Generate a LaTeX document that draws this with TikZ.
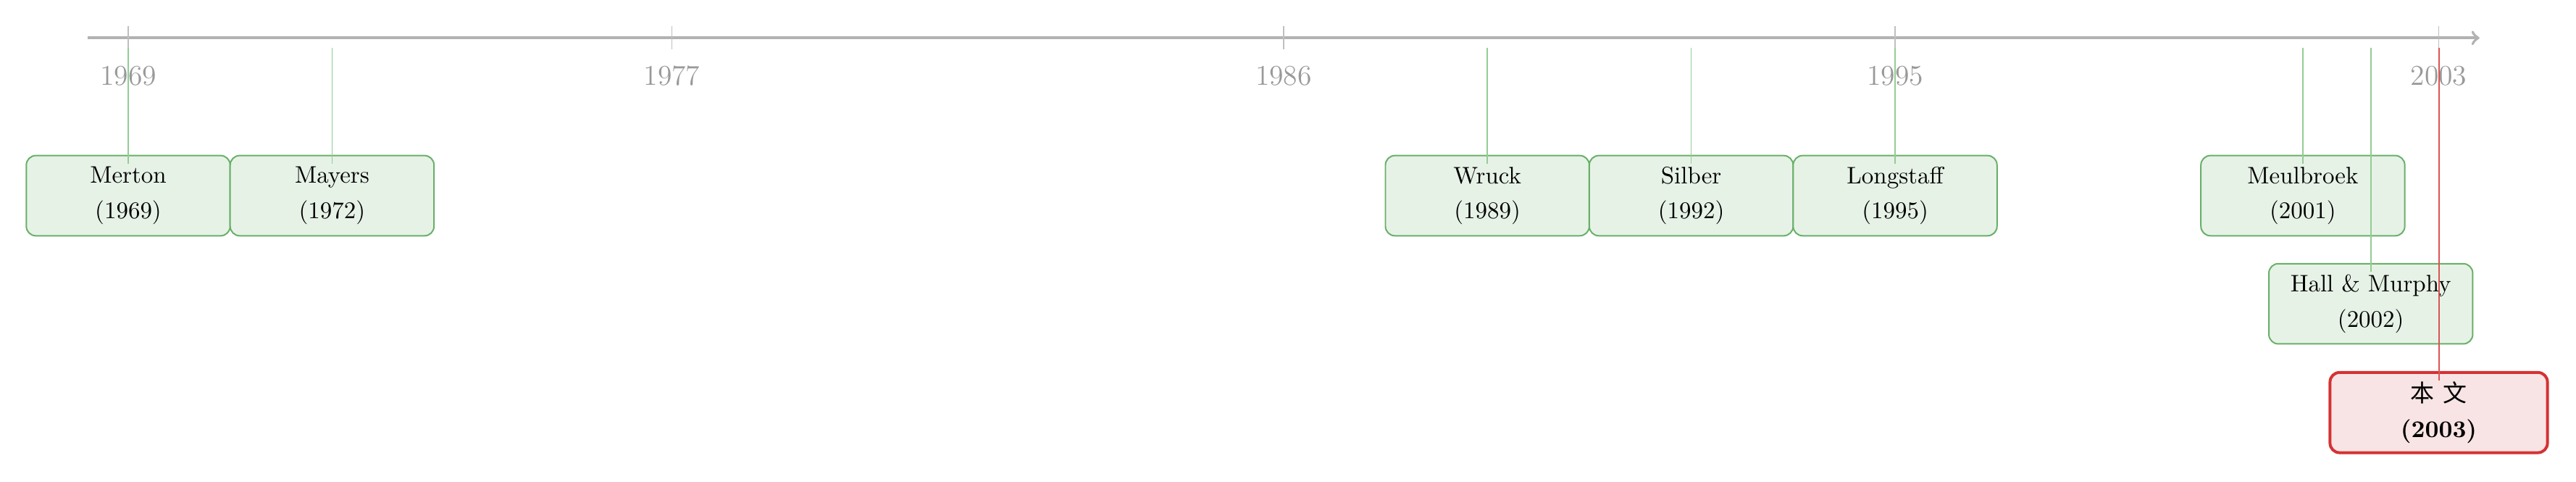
\documentclass[tikz,border=0pt]{standalone}
\usepackage{fontspec}
\newfontfamily\cjk{Noto Sans CJK SC}
\definecolor{evgreen}{RGB}{104,176,104}
\definecolor{evfill}{RGB}{231,242,231}
\definecolor{linkgreen}{RGB}{148,204,148}
\definecolor{ourred}{RGB}{212,50,52}
\definecolor{ourfill}{RGB}{248,228,228}
\definecolor{linkred}{RGB}{218,84,86}
\begin{document}
\begin{tikzpicture}[
  axisline/.style={gray!60, line width=1.2pt, ->},
  tickline/.style={gray!50, line width=0.45pt},
  yearlabel/.style={text=gray!80, font=\large, inner sep=0pt},
  evbox/.style={draw=evgreen, fill=evfill, line width=0.6pt, rounded corners=4pt,
    minimum width=3cm, minimum height=1.18cm, align=center, inner sep=0pt},
  ourbox/.style={draw=ourred, fill=ourfill, line width=1.2pt, rounded corners=4pt,
    minimum width=3.2cm, minimum height=1.18cm, align=center, inner sep=0pt, font=\bfseries},
  evlink/.style={draw=linkgreen, line width=0.5pt},
  ourlink/.style={draw=linkred, line width=0.6pt}
]
\useasboundingbox (-1.887,-6.521) rectangle (36.02,0.558);

% axis
\coordinate (axstart) at (-0.6,0);
\coordinate (axend) at (34.6,0);
\draw[axisline] (axstart) -- (axend);

% ticks and year labels
\foreach \yr/\x in {1969/0,1977/8,1986/17,1995/26,2003/34}{
  \coordinate (t\yr) at (\x,0);
  \draw[tickline] ([yshift=0.17cm]t\yr) -- ([yshift=-0.17cm]t\yr);
  \node[yearlabel] (l\yr) at (\x,-0.558) {\yr};
}

% event boxes
\node[evbox] (merton) at (0,-2.32) {Merton\\[2.7pt](1969)};
\node[evbox] (mayers) at (3,-2.32) {Mayers\\[2.7pt](1972)};
\node[evbox] (wruck) at (20,-2.32) {Wruck\\[2.7pt](1989)};
\node[evbox] (silber) at (23,-2.32) {Silber\\[2.7pt](1992)};
\node[evbox] (longstaff) at (26,-2.32) {Longstaff\\[2.7pt](1995)};
\node[evbox] (meulbroek) at (32,-2.32) {Meulbroek\\[2.7pt](2001)};
\node[evbox] (hall) at (33,-3.91) {Hall \& Murphy\\[2.7pt](2002)};
\node[ourbox] (ours) at (34,-5.51) {{\cjk\mdseries 本} {\cjk\mdseries 文}\\[2.7pt](2003)};

% anchor points just below the axis
\foreach \n/\x in {merton/0,mayers/3,wruck/20,silber/23,longstaff/26,meulbroek/32,hall/33,ours/34}{
  \coordinate (a\n) at (\x,-0.146);
}

% connectors
\foreach \n in {merton,mayers,wruck,silber,longstaff,meulbroek,hall}{
  \draw[evlink] (a\n) -- ([yshift=-0.135cm]\n.north);
}
\draw[ourlink] (aours) -- ([yshift=-0.135cm]ours.north);
\end{tikzpicture}
\end{document}
